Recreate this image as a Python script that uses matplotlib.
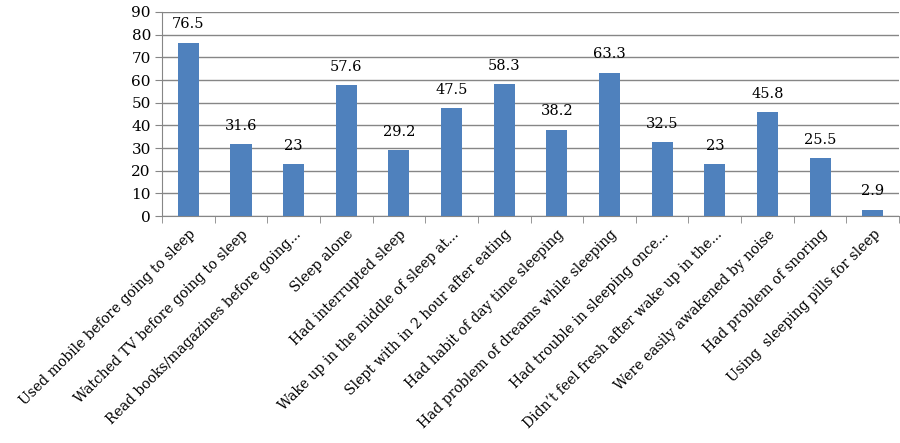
import numpy as np
import matplotlib.pyplot as plt

categories = [
    "Used mobile before going to sleep",
    "Watched TV before going to sleep",
    "Read books/magazines before going...",
    "Sleep alone",
    "Had interrupted sleep",
    "Wake up in the middle of sleep at...",
    "Slept with in 2 hour after eating",
    "Had habit of day time sleeping",
    "Had problem of dreams while sleeping",
    "Had trouble in sleeping once...",
    "Didn\u2019t feel fresh after wake up in the...",
    "Were easily awakened by noise",
    "Had problem of snoring",
    "Using  sleeping pills for sleep",
]
values = [76.5, 31.6, 23, 57.6, 29.2, 47.5, 58.3, 38.2, 63.3, 32.5, 23, 45.8, 25.5, 2.9]
value_labels = ["76.5", "31.6", "23", "57.6", "29.2", "47.5", "58.3", "38.2", "63.3", "32.5", "23", "45.8", "25.5", "2.9"]

plt.rcParams['font.family'] = ['DejaVu Serif']
grey = '#868686'

fig = plt.figure(figsize=(9, 4.43), dpi=100)
ax = fig.add_axes([0.18, 0.512, 0.819, 0.461])

x = np.arange(len(categories))
ax.bar(x, values, width=0.4, color='#4F81BD', zorder=3)
for xi, v, lab in zip(x, values, value_labels):
    ax.annotate(lab, (xi, v), xytext=(0, 8), textcoords='offset points',
                ha='center', va='bottom', fontsize=10.5)

ax.set_xlim(-0.5, len(categories) - 0.5)
ax.set_ylim(0, 90)
ax.set_yticks(np.arange(0, 91, 10))
ax.yaxis.grid(True, color=grey, linewidth=1, zorder=0)
ax.tick_params(axis='y', length=5, color=grey, labelsize=11, pad=3)

ax.set_xticks(x)
ax.set_xticklabels(categories, rotation=45, ha='right', rotation_mode='anchor', fontsize=10)
ax.tick_params(axis='x', length=0, pad=8)
ax.set_xticks(np.arange(-0.5, len(categories)), minor=True)
ax.tick_params(axis='x', which='minor', length=5, color=grey)

for s in ['top', 'right']:
    ax.spines[s].set_visible(False)
ax.spines['left'].set_color(grey)
ax.spines['bottom'].set_color(grey)

fig.savefig('out.png', dpi=100)
